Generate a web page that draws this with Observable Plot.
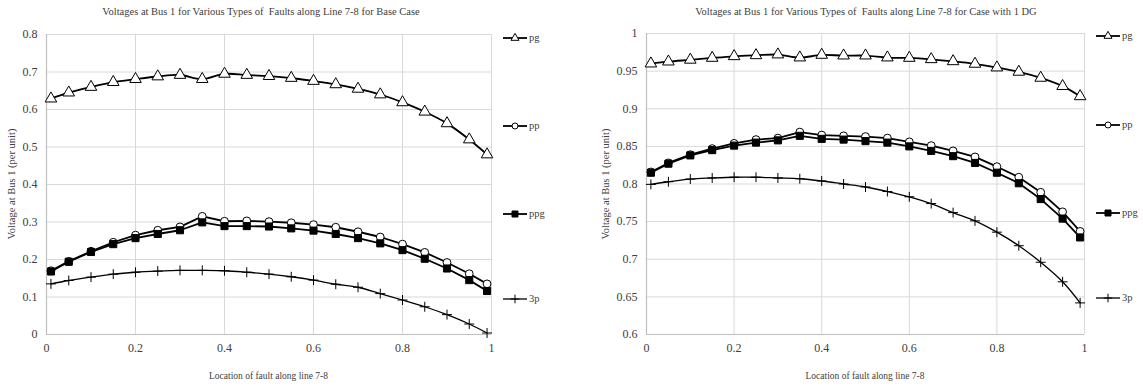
<!DOCTYPE html>
<html><head><meta charset="utf-8">
<script src="https://cdn.jsdelivr.net/npm/d3@7"></script>
<script src="https://cdn.jsdelivr.net/npm/@observablehq/plot@0.6"></script>
<style>
body{margin:0;background:#fff;font-family:"Liberation Serif","Times New Roman",serif;}
#wrap{position:relative;width:1143px;height:392px;overflow:hidden;background:#fff;}
.abs{position:absolute;white-space:nowrap;color:#404040;line-height:1;font-family:"Liberation Serif","Times New Roman",serif;}
svg{overflow:visible;}
</style></head><body><div id="wrap"></div>
<script>
// ---- data ----
const faultLoc = [0.01,0.05,0.1,0.15,0.2,0.25,0.3,0.35,0.4,0.45,0.5,0.55,0.6,0.65,0.7,0.75,0.8,0.85,0.9,0.95,0.99];
const seriesNames = ["pg","pp","ppg","3p"];

const base_pg  = [0.629,0.645,0.660,0.673,0.681,0.688,0.692,0.681,0.695,0.692,0.689,0.684,0.676,0.667,0.655,0.640,0.619,0.594,0.563,0.520,0.480];
const base_pp  = [0.170,0.195,0.222,0.246,0.265,0.278,0.287,0.315,0.302,0.303,0.301,0.298,0.293,0.286,0.274,0.260,0.241,0.219,0.192,0.162,0.135];
const base_ppg = [0.168,0.194,0.220,0.241,0.257,0.268,0.278,0.299,0.289,0.289,0.288,0.283,0.277,0.268,0.257,0.243,0.225,0.202,0.176,0.145,0.116];
const base_3p  = [0.135,0.144,0.153,0.161,0.166,0.169,0.171,0.171,0.170,0.166,0.161,0.154,0.145,0.134,0.126,0.109,0.092,0.074,0.053,0.028,0.004];

const dg_pg  = [0.960,0.9626,0.965,0.9675,0.9697,0.971,0.972,0.968,0.9715,0.9706,0.9706,0.968,0.9675,0.9657,0.963,0.9596,0.9547,0.949,0.941,0.930,0.9165];
const dg_pp  = [0.816,0.828,0.839,0.847,0.854,0.859,0.861,0.869,0.865,0.864,0.863,0.861,0.856,0.851,0.844,0.836,0.823,0.809,0.789,0.763,0.737];
const dg_ppg = [0.815,0.827,0.838,0.845,0.851,0.855,0.858,0.864,0.860,0.859,0.857,0.855,0.850,0.844,0.837,0.828,0.815,0.801,0.780,0.754,0.729];
const dg_3p  = [0.7995,0.803,0.8066,0.808,0.809,0.809,0.808,0.807,0.804,0.800,0.796,0.790,0.783,0.774,0.762,0.751,0.736,0.718,0.696,0.670,0.642];

const xTicks = [0,0.2,0.4,0.6,0.8,1];
const baseYTicks = [0,0.1,0.2,0.3,0.4,0.5,0.6,0.7,0.8];
const dgYTicks = [0.6,0.65,0.7,0.75,0.8,0.85,0.9,0.95,1];

const titleBase = "Voltages at Bus 1 for Various Types of\u00a0 Faults along Line 7-8 for Base Case";
const titleDG = "Voltages at Bus 1 for Various Types of\u00a0 Faults along Line 7-8 for Case with 1 DG";
const xLabel = "Location of fault along line 7-8";
const yLabel = "Voltage at Bus 1 (per unit)";

// ---- styles ----
const symbolOf = {pg:"triangle", pp:"circle", ppg:"square", "3p":"plus"};
const fillOf = {pg:"white", pp:"white", ppg:"black", "3p":"none"};
const curveOf = {pg:"catmull-rom", pp:"linear", ppg:"linear", "3p":"catmull-rom"};
const widthOf = {pg:1.8, pp:1.8, ppg:1.8, "3p":1.3};
const rOf = {pg:4.3, pp:3.9, ppg:4.0, "3p":3.3};
const serif = '"Liberation Serif","Times New Roman",serif';

const wrap = document.getElementById("wrap");
function addText(txt, left, top, size, opts={}) {
  const d = document.createElement("div");
  d.className = "abs";
  d.textContent = txt;
  d.style.fontSize = size + "px";
  d.style.left = left + "px";
  d.style.top = top + "px";
  if (opts.center) d.style.transform = "translate(-50%,-50%)";
  if (opts.rotate) d.style.transform = "translate(-50%,-50%) rotate(-90deg)";
  if (opts.vmid) d.style.transform = "translate(0,-50%)";
  wrap.appendChild(d);
  return d;
}

function panel(cfg) {
  const rows = [];
  cfg.values.forEach((vals, i) => vals.forEach((v, j) => rows.push({x: faultLoc[j], v, s: seriesNames[i]})));
  const marks = [
    Plot.gridY(cfg.yTicks, {stroke:"#d9d9d9", strokeOpacity:1, strokeWidth:1}),
    Plot.gridX(xTicks, {stroke:"#d9d9d9", strokeOpacity:1, strokeWidth:1}),
    Plot.ruleY([cfg.yDomain[0]], {stroke:"#bfbfbf", strokeWidth:1.2}),
    Plot.ruleX([0], {stroke:"#bfbfbf", strokeWidth:1.2}),
  ];
  seriesNames.forEach(s => {
    const d = rows.filter(r => r.s === s);
    marks.push(Plot.line(d, {x:"x", y:"v", stroke:"black", strokeWidth:widthOf[s], curve:curveOf[s]}));
  });
  seriesNames.forEach(s => {
    const d = rows.filter(r => r.s === s);
    marks.push(Plot.dot(d, {x:"x", y:"v", symbol:()=>symbolOf[s], r:rOf[s], fill:fillOf[s], stroke:"black", strokeWidth:1}));
  });
  marks.push(Plot.axisX(xTicks, {tickSize:0, tickPadding:9, tickFormat:d=>String(d), label:null, fontSize:12, fontFamily:serif}));
  marks.push(Plot.axisY(cfg.yTicks, {tickSize:0, tickPadding:9, tickFormat:d=>String(d), label:null, fontSize:12, fontFamily:serif}));
  const svg = Plot.plot({
    width: cfg.width, height: 392,
    marginLeft: cfg.ml, marginRight: cfg.mr, marginTop: cfg.mt, marginBottom: cfg.mb,
    x: {domain:[0,1]},
    y: {domain: cfg.yDomain},
    symbol: {type:"identity"},
    style: {fontFamily:serif, color:"#404040", background:"transparent", overflow:"visible"},
    marks
  });
  svg.style.position = "absolute";
  svg.style.left = cfg.left + "px";
  svg.style.top = "0px";
  wrap.appendChild(svg);

  const plotL = cfg.left + cfg.ml, plotR = cfg.left + cfg.width - cfg.mr;
  const plotT = cfg.mt, plotB = 392 - cfg.mb;
  addText(cfg.title, cfg.titleX, 12, 10.5, {center:true});
  addText(xLabel, (plotL + plotR) / 2, 377, 9.5, {center:true});
  addText(yLabel, cfg.yLabelX, (plotT + plotB) / 2, 10.5, {rotate:true});

  seriesNames.forEach((s, i) => {
    const ly = cfg.legendY[i];
    const sv = d3.create("svg").attr("width", 26).attr("height", 12)
      .style("position","absolute").style("left", (plotR + 12) + "px").style("top", (ly - 6) + "px");
    sv.append("line").attr("x1",0).attr("x2",24).attr("y1",6).attr("y2",6).attr("stroke","black").attr("stroke-width", widthOf[s]);
    const symMap = {pg:d3.symbolTriangle, pp:d3.symbolCircle, ppg:d3.symbolSquare, "3p":d3.symbolPlus};
    const size = s === "3p" ? 26 : (s === "ppg" ? 36 : 28);
    sv.append("path").attr("d", d3.symbol(symMap[s], size)()).attr("transform", "translate(12,6)")
      .attr("fill", s === "3p" ? "none" : fillOf[s]).attr("stroke","black").attr("stroke-width",1);
    wrap.appendChild(sv.node());
    addText(s, plotR + 38, ly, 10.5, {vmid:true});
  });
}

panel({
  left:0, width:571, ml:46, mr:80, mt:34, mb:58,
  yDomain:[0,0.8], yTicks: baseYTicks,
  values:[base_pg, base_pp, base_ppg, base_3p],
  title:titleBase, titleX:261, yLabelX:12,
  legendY:[38,126,214,299]
});
panel({
  left:571, width:572, ml:75, mr:59, mt:33, mb:58,
  yDomain:[0.6,1], yTicks: dgYTicks,
  values:[dg_pg, dg_pp, dg_ppg, dg_3p],
  title:titleDG, titleX:866, yLabelX:606,
  legendY:[36,125,213,298]
});
</script></body></html>
